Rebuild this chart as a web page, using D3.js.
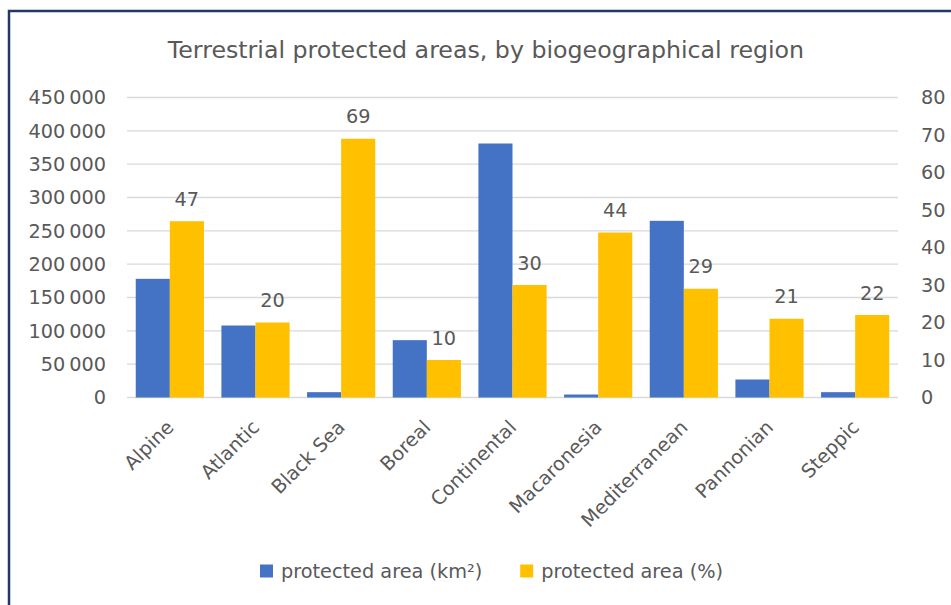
<!DOCTYPE html>
<html>
<head>
<meta charset="utf-8">
<script src="https://cdn.jsdelivr.net/npm/d3@7"></script>
<style>
  html, body { margin: 0; padding: 0; background: #ffffff; }
  svg { display: block; font-family: "DejaVu Sans", "Open Sans", sans-serif; }
</style>
</head>
<body>
<svg id="chart" width="951" height="605"></svg>
<script>
// Terrestrial protected areas per biogeographical region
const regions = ["Alpine", "Atlantic", "Black Sea", "Boreal", "Continental",
                 "Macaronesia", "Mediterranean", "Pannonian", "Steppic"];
const areaKm2 = [178000, 108000, 8000, 86000, 381000, 4500, 265000, 27000, 8000];
const areaPct = [47, 20, 69, 10, 30, 44, 29, 21, 22];
const leftTicks = [0, 50000, 100000, 150000, 200000, 250000, 300000, 350000, 400000, 450000];
const rightTicks = [0, 10, 20, 30, 40, 50, 60, 70, 80];
const seriesNames = ["protected area (km²)", "protected area (%)"];
const seriesColors = ["#4472C4", "#FFC000"];

const W = 951, H = 605;
const margin = { left: 127, right: 53, top: 97.5, bottom: 207.5 };
const textColor = "#595959";
const fontFamily = '"DejaVu Sans", "Open Sans", sans-serif';
const fontSize = 19.3;

const svg = d3.select("#chart");

// outer frame
svg.append("rect")
  .attr("x", 9).attr("y", 11)
  .attr("width", W + 20).attr("height", H + 20)
  .attr("fill", "none")
  .attr("stroke", "#1F3864")
  .attr("stroke-width", 2.5);

const x0 = d3.scaleBand()
  .domain(regions)
  .range([margin.left, W - margin.right])
  .paddingInner(0.204)
  .paddingOuter(0.102);

const x1 = d3.scaleBand()
  .domain([0, 1])
  .range([0, x0.bandwidth()]);

const yL = d3.scaleLinear().domain([0, 450000]).range([H - margin.bottom, margin.top]);
const yR = d3.scaleLinear().domain([0, 80]).range([H - margin.bottom, margin.top]);

// thousands separated by a thin space
const fmtL = v => d3.format(",")(v).replace(/,/g, "\u2009");

// gridlines
svg.append("g")
  .selectAll("line")
  .data(leftTicks)
  .join("line")
  .attr("x1", margin.left)
  .attr("x2", W - margin.right)
  .attr("y1", d => yL(d))
  .attr("y2", d => yL(d))
  .attr("stroke", "#D9D9D9")
  .attr("stroke-width", 1.3);

// left axis
const axL = svg.append("g")
  .attr("transform", `translate(${margin.left - 21},0)`)
  .call(d3.axisLeft(yL).tickValues(leftTicks).tickFormat(fmtL).tickSize(0).tickPadding(0))
  .attr("font-family", fontFamily)
  .attr("font-size", fontSize);
axL.select(".domain").remove();
axL.selectAll("text").attr("fill", textColor);

// right axis
const axR = svg.append("g")
  .attr("transform", `translate(${W - margin.right + 23},0)`)
  .call(d3.axisRight(yR).tickValues(rightTicks).tickSize(0).tickPadding(0))
  .attr("font-family", fontFamily)
  .attr("font-size", fontSize);
axR.select(".domain").remove();
axR.selectAll("text").attr("fill", textColor);

// bars
const groups = svg.append("g")
  .selectAll("g")
  .data(regions.map((r, i) => ({ region: r, km2: areaKm2[i], pct: areaPct[i] })))
  .join("g")
  .attr("transform", d => `translate(${x0(d.region)},0)`);

groups.append("rect")
  .attr("x", x1(0))
  .attr("width", x1.bandwidth())
  .attr("y", d => yL(d.km2))
  .attr("height", d => yL(0) - yL(d.km2))
  .attr("fill", seriesColors[0]);

groups.append("rect")
  .attr("x", x1(1))
  .attr("width", x1.bandwidth())
  .attr("y", d => yR(d.pct))
  .attr("height", d => yR(0) - yR(d.pct))
  .attr("fill", seriesColors[1]);

// percentage labels
groups.append("text")
  .attr("x", x1(1) + x1.bandwidth() / 2)
  .attr("y", d => yR(d.pct) - 15.5)
  .attr("text-anchor", "middle")
  .attr("fill", textColor)
  .attr("font-size", fontSize)
  .text(d => d.pct);

// category labels
svg.append("g")
  .selectAll("text")
  .data(regions)
  .join("text")
  .attr("transform", d => `translate(${x0(d) + x0.bandwidth() / 2 + 5},${H - margin.bottom + 31}) rotate(-45)`)
  .attr("text-anchor", "end")
  .attr("fill", textColor)
  .attr("font-size", fontSize)
  .text(d => d);

// title
svg.append("text")
  .attr("x", (167 + 805) / 2)
  .attr("y", 58)
  .attr("text-anchor", "middle")
  .attr("fill", textColor)
  .attr("font-size", 23.7)
  .text("Terrestrial protected areas, by biogeographical region");

// legend
const legend = svg.append("g").attr("transform", "translate(260,571)");
let lx = 0;
seriesNames.forEach((name, i) => {
  const g = legend.append("g").attr("transform", `translate(${lx},0)`);
  g.append("rect")
    .attr("x", 0).attr("y", -6.5)
    .attr("width", 13).attr("height", 13)
    .attr("fill", seriesColors[i]);
  const t = g.append("text")
    .attr("x", 21)
    .attr("y", 0)
    .attr("dy", "0.35em")
    .attr("fill", textColor)
    .attr("font-size", fontSize)
    .text(name);
  lx += 21 + t.node().getComputedTextLength() + 38;
});
</script>
</body>
</html>
